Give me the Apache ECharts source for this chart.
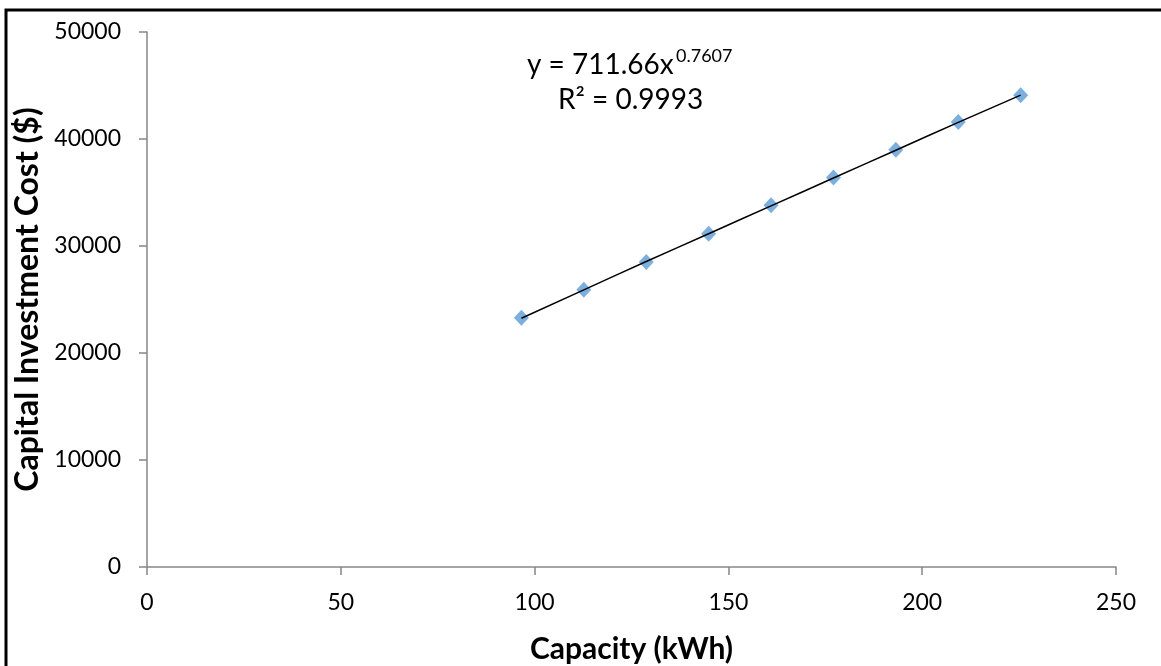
<!DOCTYPE html>
<html>
<head>
<meta charset="utf-8">
<style>
  html, body { margin: 0; padding: 0; background: #fff; }
  #chart { width: 1161px; height: 666px; }
</style>
<script src="https://cdn.jsdelivr.net/npm/echarts@6/dist/echarts.min.js"></script>
</head>
<body>
<div id="chart"></div>
<script>
// capacity (kWh) and capital cost ($)
const capacity = [96.6, 112.7, 128.8, 144.9, 161.0, 177.1, 193.2, 209.3, 225.4];
const cost = [23300, 25900, 28500, 31150, 33800, 36400, 39000, 41600, 44100];
// trendline position at the same capacities
const trend = [23250, 25900, 28550, 31150, 33750, 36350, 38950, 41550, 44100];
const xTicks = [0, 50, 100, 150, 200, 250];
const yTicks = [0, 10000, 20000, 30000, 40000, 50000];

const font = 'Lato, "Open Sans", sans-serif';
const axisGray = '#868686';

const chart = echarts.init(document.getElementById('chart'));

chart.setOption({
    animation: false,
    grid: { left: 147, right: 45, top: 32, bottom: 99, outerBoundsMode: 'none' },
    xAxis: {
        type: 'value',
        min: xTicks[0],
        max: xTicks[xTicks.length - 1],
        interval: 50,
        name: 'Capacity (kWh)',
        nameLocation: 'middle',
        nameGap: 67,
        nameTextStyle: { fontFamily: font, fontSize: 30, fontWeight: 'bold', color: '#000' },
        axisLine: { lineStyle: { color: axisGray, width: 1.5 } },
        axisTick: { show: true, length: 8, lineStyle: { color: axisGray, width: 1.5 } },
        axisLabel: { fontFamily: font, fontSize: 23, color: '#000', margin: 24 },
        splitLine: { show: false }
    },
    yAxis: {
        type: 'value',
        min: yTicks[0],
        max: yTicks[yTicks.length - 1],
        interval: 10000,
        name: 'Capital Investment Cost ($)',
        nameLocation: 'middle',
        nameGap: 91,
        nameTextStyle: { fontFamily: font, fontSize: 32, fontWeight: 'bold', color: '#000' },
        axisLine: { show: true, lineStyle: { color: axisGray, width: 1.5 } },
        axisTick: { show: true, length: 8, lineStyle: { color: axisGray, width: 1.5 } },
        axisLabel: { fontFamily: font, fontSize: 23, color: '#000', margin: 26, formatter: v => String(v) },
        splitLine: { show: false }
    },
    graphic: [
        {
            type: 'rect',
            silent: true,
            shape: { x: 6, y: 10, width: 1300, height: 800 },
            style: { fill: 'none', stroke: '#000', lineWidth: 3 }
        },
        {
            type: 'text',
            left: 527,
            top: 51,
            style: { text: 'y = 711.66x', fontFamily: font, fontSize: 28, fill: '#000' }
        },
        {
            type: 'text',
            left: 676,
            top: 47,
            style: { text: '0.7607', fontFamily: font, fontSize: 18, fill: '#000' }
        },
        {
            type: 'text',
            left: 558,
            top: 86,
            style: { text: 'R² = 0.9993', fontFamily: font, fontSize: 28, fill: '#000' }
        }
    ],
    series: [
        {
            type: 'line',
            data: capacity.map((c, i) => [c, trend[i]]),
            showSymbol: false,
            smooth: true,
            lineStyle: { color: '#000', width: 1.5 },
            z: 3
        },
        {
            type: 'scatter',
            data: capacity.map((c, i) => [c, cost[i]]),
            symbol: 'diamond',
            symbolSize: [15, 16],
            itemStyle: { color: '#5B9BD5' },
            z: 2
        }
    ]
});
</script>
</body>
</html>
